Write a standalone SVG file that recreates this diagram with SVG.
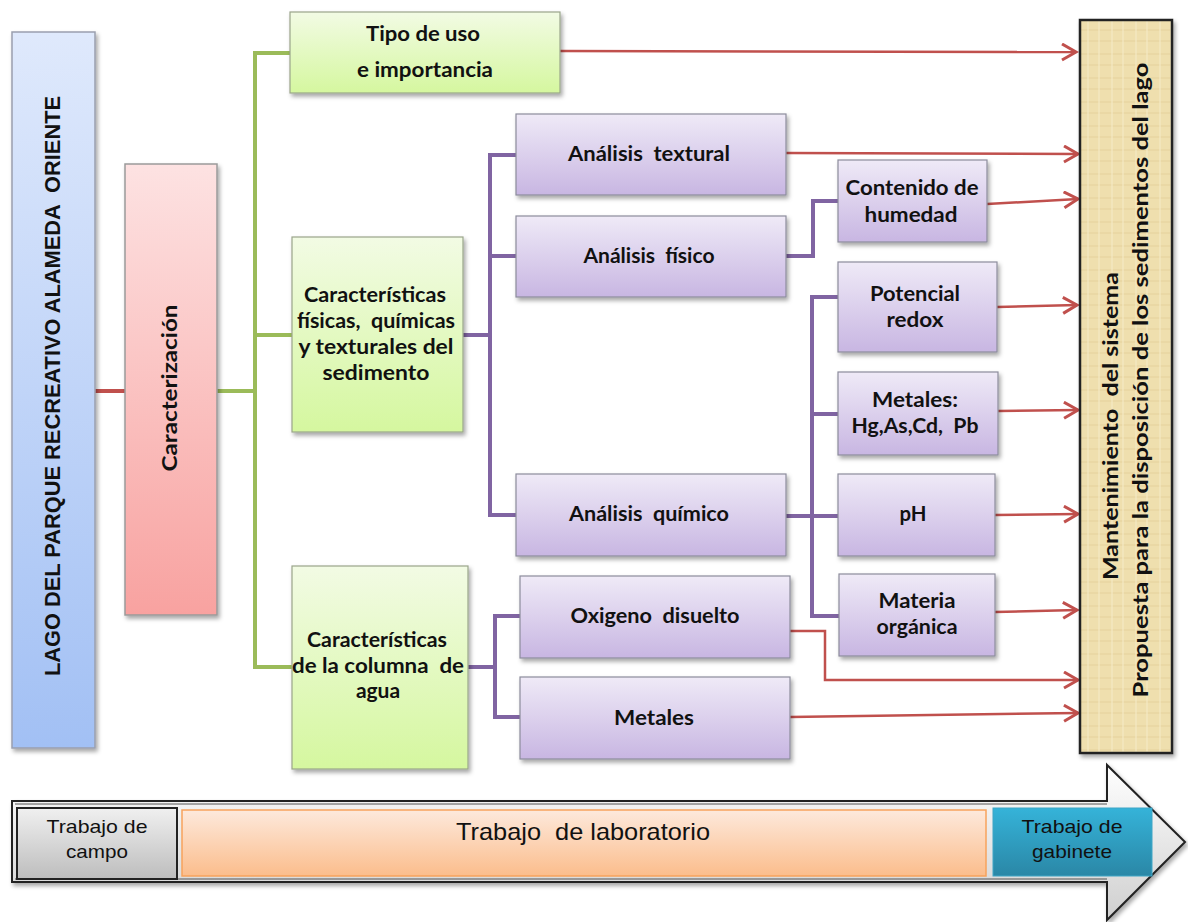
<svg xmlns="http://www.w3.org/2000/svg" width="1188" height="922" viewBox="0 0 1188 922">
<style>
text{white-space:pre}
.t{font-family:Lato,"Open Sans",sans-serif;font-weight:bold;font-size:21px;fill:#111;text-anchor:middle}
.a{font-family:"Liberation Sans",Arial,sans-serif;fill:#111;text-anchor:middle}
.g{fill:url(#gG);stroke:#9aa58a;stroke-width:1.2}
.p{fill:url(#gP);stroke:#8c8c9c;stroke-width:1.2}
.cg{fill:none;stroke:#9bbb59;stroke-width:4}
.cp{fill:none;stroke:#8064a2;stroke-width:4}
.cr{fill:none;stroke:#c0504d;stroke-width:2.5;marker-end:url(#ar)}
</style>
<defs>
<filter id="sh" x="-10%" y="-10%" width="130%" height="130%"><feDropShadow dx="2" dy="3" stdDeviation="2" flood-color="#000" flood-opacity="0.35"/></filter>
<linearGradient id="gB" x1="0" y1="0" x2="0" y2="1"><stop offset="0" stop-color="#dfe9fc"/><stop offset="1" stop-color="#a2c0f4"/></linearGradient>
<linearGradient id="gR" x1="0" y1="0" x2="0" y2="1"><stop offset="0" stop-color="#fde2e2"/><stop offset="1" stop-color="#f8a2a0"/></linearGradient>
<linearGradient id="gG" x1="0" y1="0" x2="0" y2="1"><stop offset="0" stop-color="#f2fbe4"/><stop offset="1" stop-color="#d5f79f"/></linearGradient>
<linearGradient id="gP" x1="0" y1="0" x2="0" y2="1"><stop offset="0" stop-color="#efeaf7"/><stop offset="1" stop-color="#c8b6e2"/></linearGradient>
<linearGradient id="gGr" x1="0" y1="0" x2="0" y2="1"><stop offset="0" stop-color="#ffffff"/><stop offset="1" stop-color="#cfcfcf"/></linearGradient>
<linearGradient id="gC" x1="0" y1="0" x2="0" y2="1"><stop offset="0" stop-color="#f0f0f0"/><stop offset="1" stop-color="#bdbdbd"/></linearGradient>
<linearGradient id="gO" x1="0" y1="0" x2="0" y2="1"><stop offset="0" stop-color="#fde9dc"/><stop offset="1" stop-color="#fbbd8c"/></linearGradient>
<linearGradient id="gT" x1="0" y1="0" x2="0" y2="1"><stop offset="0" stop-color="#35b3d9"/><stop offset="1" stop-color="#2a87a6"/></linearGradient>
<pattern id="pap" width="24" height="24" patternUnits="userSpaceOnUse"><rect width="24" height="24" fill="#efdfae"/><path d="M0 6H24M0 17H24" stroke="#e3cf98" stroke-width="1.5" opacity="0.6"/><path d="M8 0V24M19 0V24" stroke="#f6ebc6" stroke-width="1.5" opacity="0.7"/></pattern>
<marker id="ar" markerWidth="20" markerHeight="20" refX="15" refY="9" orient="auto" markerUnits="userSpaceOnUse"><path d="M1,1 L15,9 L1,17" fill="none" stroke="#c0504d" stroke-width="3"/></marker>
</defs>
<rect width="1188" height="922" fill="#fff"/>

<g id="connectors">
<line x1="95" y1="391" x2="125" y2="391" stroke="#c0504d" stroke-width="4"/>
<path class="cg" d="M217 391H255M290 53H255V667H292M255 335H292"/>
<path class="cp" d="M463 335H490M516 155H490V515H516M490 256H516"/>
<path class="cp" d="M468 667H495M520 616H495V717H520"/>
<path class="cp" d="M786 256H813V201H838"/>
<path class="cp" d="M786 516H838M838 297H812V616H839M812 414H838"/>
<path class="cr" d="M560 51L1076 52"/>
<path class="cr" d="M786 153L1078 154"/>
<path class="cr" d="M987 204L1078 199"/>
<path class="cr" d="M997 307L1077 305"/>
<path class="cr" d="M998 411L1078 410"/>
<path class="cr" d="M995 515L1078 514"/>
<path class="cr" d="M995 612L1077 610"/>
<path class="cr" d="M790 631H825V680H1078"/>
<path class="cr" d="M790 717L1078 713"/>
</g>

<g id="n-lago"><rect x="12" y="32" width="83" height="716" fill="url(#gB)" stroke="#9a9fae" stroke-width="1.5" filter="url(#sh)"/>
<text class="a" font-weight="bold" font-size="22" transform="translate(60 386) rotate(-90)" textLength="580" lengthAdjust="spacingAndGlyphs">LAGO DEL PARQUE RECREATIVO ALAMEDA  ORIENTE</text></g>

<g id="n-caract"><rect x="125" y="164" width="92" height="451" fill="url(#gR)" stroke="#9a9a9a" stroke-width="1.5" filter="url(#sh)"/>
<text class="t" font-size="21" transform="translate(177 388) rotate(-90)" textLength="167" lengthAdjust="spacingAndGlyphs">Caracterización</text></g>

<g id="n-tipo"><rect class="g" x="290" y="12" width="270" height="81" filter="url(#sh)"/>
<text class="t" x="423" y="41" textLength="114" lengthAdjust="spacingAndGlyphs">Tipo de uso</text><text class="t" x="425" y="77" textLength="136" lengthAdjust="spacingAndGlyphs">e importancia</text></g>

<g id="n-sed"><rect class="g" x="292" y="237" width="171" height="195" filter="url(#sh)"/>
<text class="t" x="375" y="302" textLength="142" lengthAdjust="spacingAndGlyphs">Características</text><text class="t" x="376" y="328" textLength="158" lengthAdjust="spacingAndGlyphs">físicas,  químicas</text><text class="t" x="376" y="354" textLength="155" lengthAdjust="spacingAndGlyphs">y texturales del</text><text class="t" x="376" y="380" textLength="107" lengthAdjust="spacingAndGlyphs">sedimento</text></g>

<g id="n-col"><rect class="g" x="292" y="566" width="176" height="203" filter="url(#sh)"/>
<text class="t" x="377" y="647" textLength="140" lengthAdjust="spacingAndGlyphs">Características</text><text class="t" x="378" y="673" textLength="172" lengthAdjust="spacingAndGlyphs">de la columna  de</text><text class="t" x="378" y="698">agua</text></g>

<g id="n-text"><rect class="p" x="516" y="114" width="270" height="81" filter="url(#sh)"/><text class="t" x="649" y="161" textLength="162" lengthAdjust="spacingAndGlyphs">Análisis  textural</text></g>
<g id="n-fis"><rect class="p" x="516" y="216" width="270" height="81" filter="url(#sh)"/><text class="t" x="649" y="263" textLength="131" lengthAdjust="spacingAndGlyphs">Análisis  físico</text></g>
<g id="n-qui"><rect class="p" x="516" y="474" width="270" height="82" filter="url(#sh)"/><text class="t" x="649" y="521" textLength="160" lengthAdjust="spacingAndGlyphs">Análisis  químico</text></g>
<g id="n-oxi"><rect class="p" x="520" y="576" width="270" height="82" filter="url(#sh)"/><text class="t" x="655" y="623" textLength="169" lengthAdjust="spacingAndGlyphs">Oxigeno  disuelto</text></g>
<g id="n-met"><rect class="p" x="520" y="677" width="270" height="82" filter="url(#sh)"/><text class="t" x="654" y="725" textLength="80" lengthAdjust="spacingAndGlyphs">Metales</text></g>

<g id="n-hum"><rect class="p" x="838" y="160" width="149" height="82" filter="url(#sh)"/><text class="t" x="912" y="195" textLength="133" lengthAdjust="spacingAndGlyphs">Contenido de</text><text class="t" x="911" y="222" textLength="93" lengthAdjust="spacingAndGlyphs">humedad</text></g>
<g id="n-redox"><rect class="p" x="838" y="262" width="159" height="90" filter="url(#sh)"/><text class="t" x="915" y="301" textLength="90" lengthAdjust="spacingAndGlyphs">Potencial</text><text class="t" x="915" y="327" textLength="57" lengthAdjust="spacingAndGlyphs">redox</text></g>
<g id="n-metq"><rect class="p" x="838" y="372" width="160" height="83" filter="url(#sh)"/><text class="t" x="915" y="407" textLength="86" lengthAdjust="spacingAndGlyphs">Metales:</text><text class="t" x="915" y="433" textLength="127" lengthAdjust="spacingAndGlyphs">Hg,As,Cd,  Pb</text></g>
<g id="n-ph"><rect class="p" x="838" y="474" width="157" height="82" filter="url(#sh)"/><text class="t" x="913" y="521" textLength="27" lengthAdjust="spacingAndGlyphs">pH</text></g>
<g id="n-mo"><rect class="p" x="839" y="574" width="156" height="82" filter="url(#sh)"/><text class="t" x="917" y="608" textLength="77" lengthAdjust="spacingAndGlyphs">Materia</text><text class="t" x="917" y="634" textLength="81" lengthAdjust="spacingAndGlyphs">orgánica</text></g>

<g id="n-final"><rect x="1080" y="20" width="92" height="733" fill="url(#pap)" stroke="#222" stroke-width="2.5" filter="url(#sh)"/>
<text class="t" font-size="21" transform="translate(1118 426) rotate(-90)" textLength="308" lengthAdjust="spacingAndGlyphs">Mantenimiento  del sistema</text>
<text class="t" font-size="21" transform="translate(1148 380) rotate(-90)" textLength="635" lengthAdjust="spacingAndGlyphs">Propuesta para la disposición de los sedimentos del lago</text></g>

<g id="n-timeline">
<path d="M12 801H1107V765L1185 842L1107 920V882H12Z" fill="url(#gGr)" stroke="#222" stroke-width="2" filter="url(#sh)"/>
<path d="M15 804H1107" stroke="#555" stroke-width="1" fill="none"/>
<path d="M15 879H1107" stroke="#555" stroke-width="1" fill="none"/>
<rect x="17" y="808" width="160" height="71" fill="url(#gC)" stroke="#222" stroke-width="2"/>
<text class="a" font-size="19" x="97" y="833" textLength="101" lengthAdjust="spacingAndGlyphs">Trabajo de</text><text class="a" font-size="19" x="97" y="858" textLength="62" lengthAdjust="spacingAndGlyphs">campo</text>
<rect x="182" y="810" width="804" height="66" fill="url(#gO)" stroke="#f7a35c" stroke-width="1.5"/>
<text class="a" font-size="24" x="583" y="840" textLength="254" lengthAdjust="spacingAndGlyphs">Trabajo  de laboratorio</text>
<rect x="993" y="808" width="159" height="68" fill="url(#gT)" stroke="#3fa6c6" stroke-width="1"/>
<text class="a" font-size="19" x="1072" y="833" textLength="101" lengthAdjust="spacingAndGlyphs">Trabajo de</text><text class="a" font-size="19" x="1072" y="858" textLength="80" lengthAdjust="spacingAndGlyphs">gabinete</text>
</g>
</svg>
